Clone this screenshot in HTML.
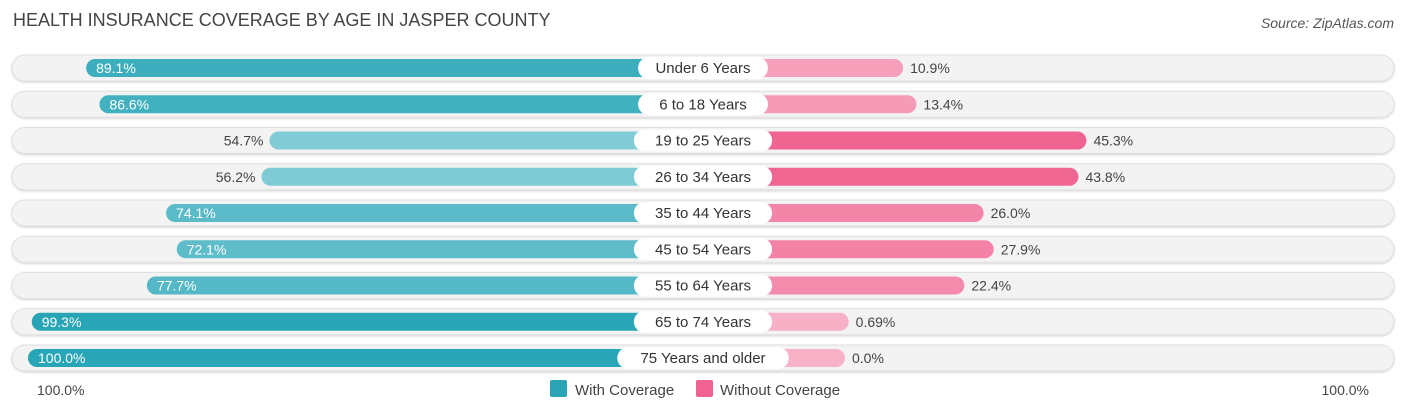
<!DOCTYPE html>
<html><head><meta charset="utf-8"><style>
body{margin:0;width:1406px;height:414px;background:#fff;font-family:"Liberation Sans",sans-serif;overflow:hidden;position:relative}
.t{position:absolute;left:13px;top:10px;font-size:18px;color:#444}
.s{position:absolute;right:12px;top:15px;font-size:14px;color:#555;font-style:italic}
</style></head><body>
<div class="t">HEALTH INSURANCE COVERAGE BY AGE IN JASPER COUNTY</div>
<div class="s">Source: ZipAtlas.com</div>
<svg id="c" width="1406" height="414" style="position:absolute;left:0;top:0"></svg>
<script>
const categories=["Under 6 Years","6 to 18 Years","19 to 25 Years","26 to 34 Years","35 to 44 Years","45 to 54 Years","55 to 64 Years","65 to 74 Years","75 Years and older"];
const withCov=[89.1,86.6,54.7,56.2,74.1,72.1,77.7,99.3,100.0];
const withoutCov=[10.9,13.4,45.3,43.8,26.0,27.9,22.4,0.69,0.0];
const withLabels=["89.1%","86.6%","54.7%","56.2%","74.1%","72.1%","77.7%","99.3%","100.0%"];
const withoutLabels=["10.9%","13.4%","45.3%","43.8%","26.0%","27.9%","22.4%","0.69%","0.0%"];
const svg=document.getElementById('c');const NS="http://www.w3.org/2000/svg";
const C=703,OFF=142,K=5.33;
function xl(v){return C-OFF-v*K;} function xr(v){return C+OFF+v*K;}
function y(i){return 68+i*36.25;}
function mix(a,b,t){return 'rgb('+a.map((x,i)=>Math.round(x+(b[i]-x)*t)).join(',')+')';}
function el(tag,attrs,parent){const e=document.createElementNS(NS,tag);for(const k in attrs)e.setAttribute(k,attrs[k]);(parent||svg).appendChild(e);return e;}
const defs=el('defs',{});
const f=el('filter',{id:'sh',x:'-5%',y:'-50%',width:'110%',height:'200%'},defs);
el('feDropShadow',{dx:0,dy:1,stdDeviation:1,'flood-color':'#000','flood-opacity':0.18},f);
categories.forEach((cat,i)=>{
  const cy=y(i);
  const g=el('g',{});
  
  
  const bg=el('rect',{x:12,y:cy-13,width:1382,height:26,rx:13,fill:'#f3f3f3',stroke:'#e0e0e0',filter:'url(#sh)'},g);
  
  
  const v=withCov[i],w=withoutCov[i];
  const t1=Math.max(0,Math.min(1,(v-50)/50));
  const b1=el('rect',{x:xl(v),y:cy-9,width:C-xl(v),height:18,rx:9,fill:mix([138,208,217],[40,165,182],t1)},g);
  
  
  const t2=Math.max(0,Math.min(1,w/45));
  const b2=el('rect',{x:C,y:cy-9,width:xr(w)-C,height:18,rx:9,fill:mix([247,178,200],[240,100,145],t2)},g);
  
  
  const inside=v>60;
  const l1=el('text',{x:inside?xl(v)+10:xl(v)-6,y:cy+5,'font-size':14,fill:inside?'#fff':'#444','text-anchor':inside?'start':'end'},g);
  l1.textContent=withLabels[i];
  
  
  const l2=el('text',{x:xr(w)+7,y:cy+5,'font-size':14,fill:'#444'},g);
  l2.textContent=withoutLabels[i];
  
  
  const tw=cat.length*8.3+22;
  const p=el('rect',{x:C-tw/2,y:cy-11,width:tw,height:22,rx:11,fill:'#fff'},g);
  
  
  const ct=el('text',{x:C,y:cy+5,'font-size':15,fill:'#333','text-anchor':'middle'},g);
  ct.textContent=cat;
  
  
});
const ax1=el('text',{x:37,y:395,'font-size':14,fill:'#444'});ax1.textContent='100.0%';


const ax2=el('text',{x:1369,y:395,'font-size':14,fill:'#444','text-anchor':'end'});ax2.textContent='100.0%';


const lg1=el('rect',{x:550,y:380,width:17,height:17,rx:2,fill:'#2ba5b6'});


const lt1=el('text',{x:575,y:395,'font-size':15,fill:'#444'});lt1.textContent='With Coverage';


const lg2=el('rect',{x:696,y:380,width:17,height:17,rx:2,fill:'#f06292'});


const lt2=el('text',{x:720,y:395,'font-size':15,fill:'#444'});lt2.textContent='Without Coverage';


</script>
</body></html>
